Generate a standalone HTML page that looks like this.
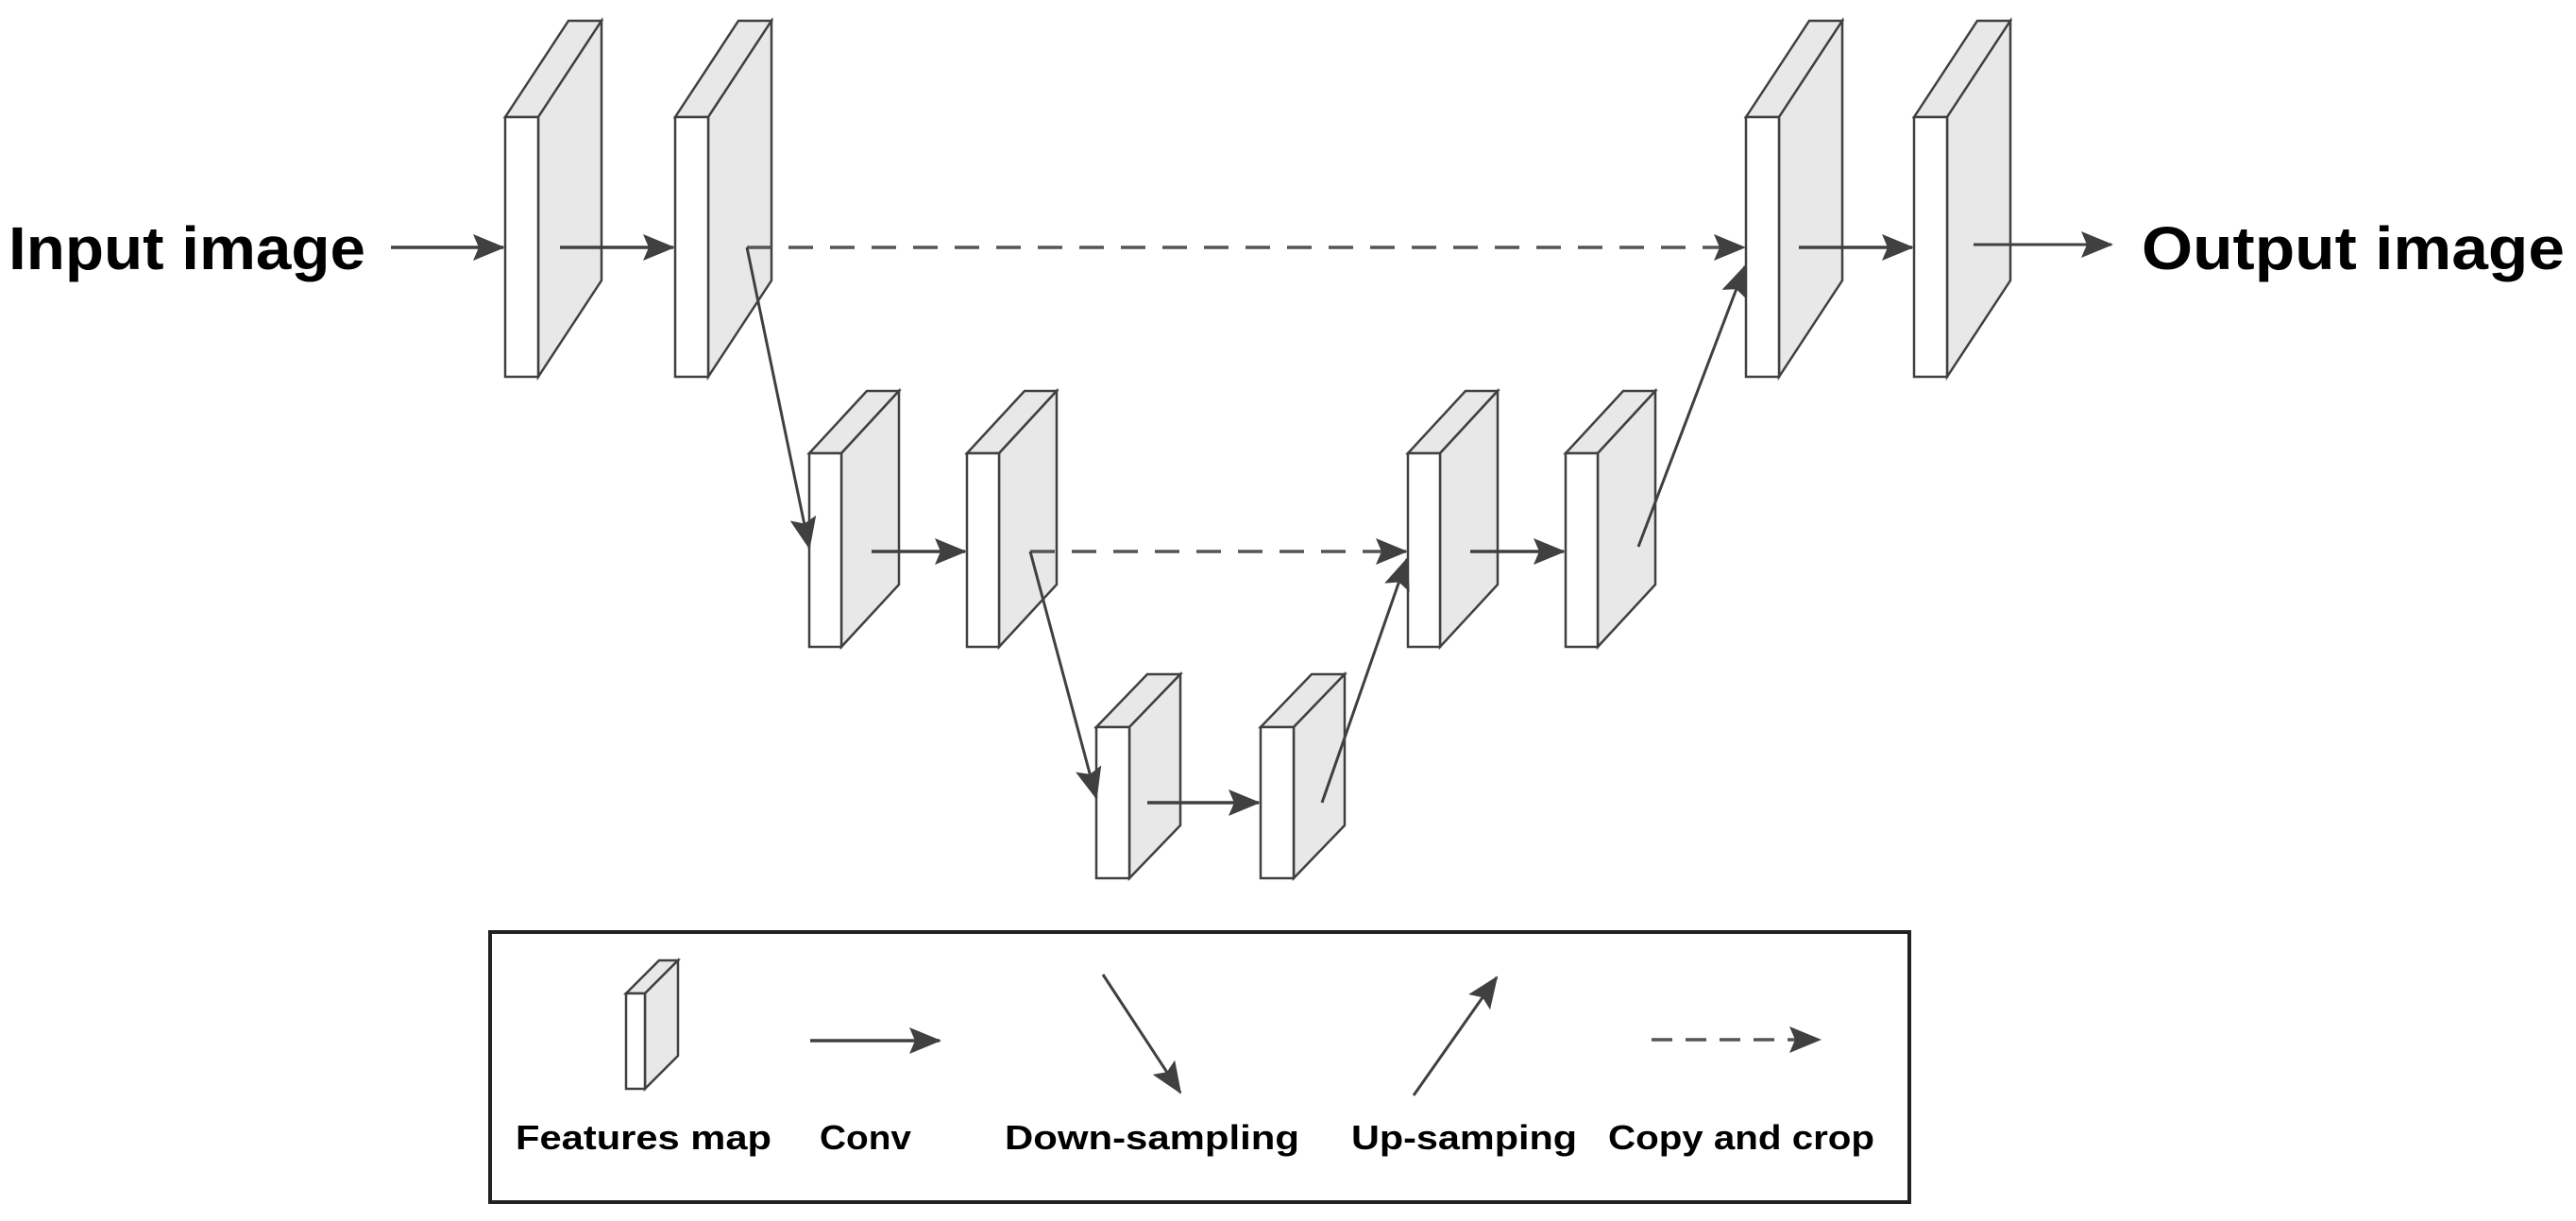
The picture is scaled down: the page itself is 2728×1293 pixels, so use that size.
<!DOCTYPE html>
<html><head><meta charset="utf-8"><style>html,body{margin:0;padding:0;background:#fff}svg{display:block}</style></head>
<body>
<svg width="2728" height="1293" viewBox="0 0 2728 1293" xmlns="http://www.w3.org/2000/svg">
<defs>
<marker id="a" markerUnits="userSpaceOnUse" markerWidth="34" markerHeight="28" refX="32" refY="14" orient="auto">
<path d="M0,0 L34,14 L0,28 L6,14 Z" fill="#404040"/></marker>
</defs>
<g stroke="#404040" stroke-width="2.5" stroke-linejoin="miter">
<!-- level1 -->
<g id="b1">
<polygon points="535,124 570,124 637,22 602,22" fill="#e8e8e8"/>
<polygon points="570,124 637,22 637,297 570,399" fill="#e8e8e8"/>
<rect x="535" y="124" width="35" height="275" fill="#fff"/>
</g>
<use href="#b1" x="180"/>
<use href="#b1" x="1314"/>
<use href="#b1" x="1492"/>
<!-- level2 -->
<g id="b2">
<polygon points="857,480 891,480 952,414 918,414" fill="#e8e8e8"/>
<polygon points="891,480 952,414 952,619 891,685" fill="#e8e8e8"/>
<rect x="857" y="480" width="34" height="205" fill="#fff"/>
</g>
<use href="#b2" x="167"/>
<use href="#b2" x="634"/>
<use href="#b2" x="801"/>
<!-- level3 -->
<g id="b3">
<polygon points="1161,770 1196,770 1250,714 1215,714" fill="#e8e8e8"/>
<polygon points="1196,770 1250,714 1250,874 1196,930" fill="#e8e8e8"/>
<rect x="1161" y="770" width="35" height="160" fill="#fff"/>
</g>
<use href="#b3" x="174"/>
</g>
<g stroke="#404040" stroke-width="3.5" fill="none" marker-end="url(#a)">
<line x1="414" y1="262" x2="533" y2="262"/>
<line x1="593" y1="262" x2="713" y2="262"/>
<line x1="791" y1="262" x2="1847" y2="262" stroke-dasharray="26,18" stroke="#555"/>
<line x1="791" y1="262" x2="857" y2="580" stroke-width="3"/>
<line x1="923" y1="584" x2="1022" y2="584"/>
<line x1="1091" y1="584" x2="1489" y2="584" stroke-dasharray="26,18" stroke="#555"/>
<line x1="1091" y1="584" x2="1161" y2="845" stroke-width="3"/>
<line x1="1215" y1="850" x2="1333" y2="850"/>
<line x1="1400" y1="850" x2="1490" y2="592" stroke-width="3"/>
<line x1="1557" y1="584" x2="1656" y2="584"/>
<line x1="1735" y1="579" x2="1848" y2="282" stroke-width="3"/>
<line x1="1905" y1="262" x2="2025" y2="262"/>
<line x1="2090" y1="259" x2="2236" y2="259" stroke-width="3"/>
</g>
<g font-family="Liberation Sans, sans-serif" font-weight="bold" fill="#000">
<text x="9" y="285" font-size="64" textLength="378" lengthAdjust="spacingAndGlyphs">Input image</text>
<text x="2268" y="285" font-size="64" textLength="448" lengthAdjust="spacingAndGlyphs">Output image</text>
</g>
<!-- legend -->
<rect x="519" y="987" width="1503" height="286" fill="none" stroke="#222" stroke-width="4"/>
<g stroke="#404040" stroke-width="2.5">
<polygon points="663,1052 683,1052 718,1017 698,1017" fill="#e8e8e8"/>
<polygon points="683,1052 718,1017 718,1118 683,1153" fill="#e8e8e8"/>
<rect x="663" y="1052" width="20" height="101" fill="#fff"/>
</g>
<g stroke="#404040" stroke-width="3.5" fill="none" marker-end="url(#a)">
<line x1="858" y1="1102" x2="995" y2="1102"/>
<line x1="1168" y1="1032" x2="1250" y2="1157" stroke-width="3"/>
<line x1="1497" y1="1160" x2="1585" y2="1035" stroke-width="3"/>
<line x1="1749" y1="1101" x2="1927" y2="1101" stroke-dasharray="22,14" stroke="#555"/>
</g>
<g font-family="Liberation Sans, sans-serif" font-weight="bold" font-size="36" fill="#000">
<text x="546" y="1217" textLength="271" lengthAdjust="spacingAndGlyphs">Features map</text>
<text x="868" y="1217" textLength="97" lengthAdjust="spacingAndGlyphs">Conv</text>
<text x="1064" y="1217" textLength="312" lengthAdjust="spacingAndGlyphs">Down-sampling</text>
<text x="1431" y="1217" textLength="239" lengthAdjust="spacingAndGlyphs">Up-samping</text>
<text x="1703" y="1217" textLength="282" lengthAdjust="spacingAndGlyphs">Copy and crop</text>
</g>
</svg>
</body></html>
